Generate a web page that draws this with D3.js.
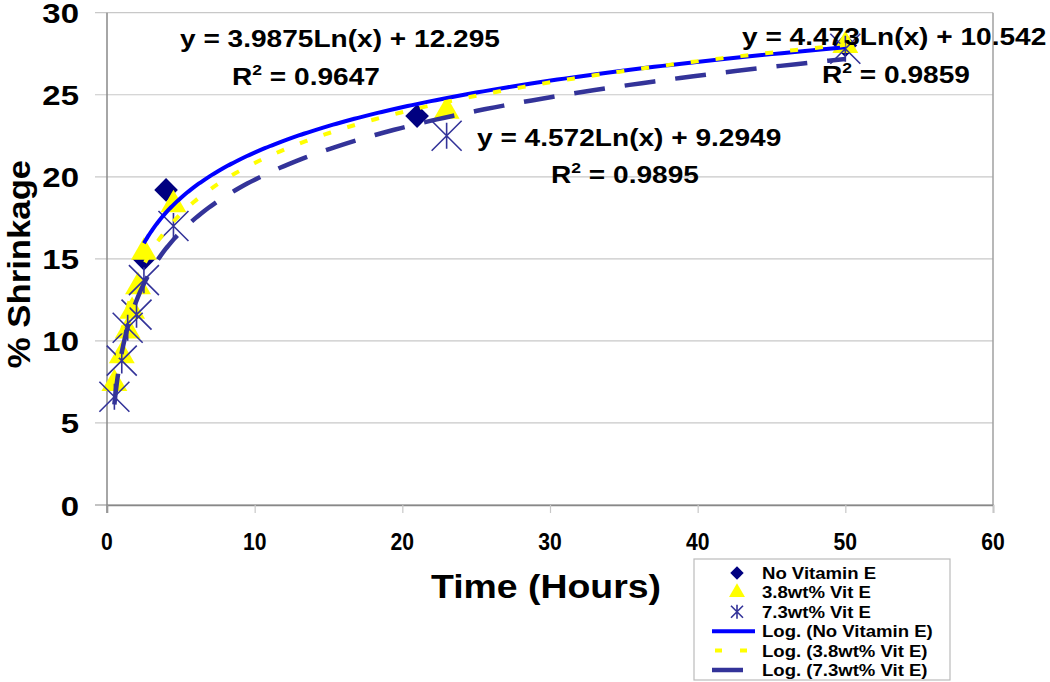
<!DOCTYPE html>
<html>
<head>
<meta charset="utf-8">
<script src="https://cdn.jsdelivr.net/npm/d3@7"></script>
<style>
  body { margin: 0; background: #fff; }
  text { font-family: "Liberation Sans", Arial, sans-serif; font-weight: bold; fill: #000; }
</style>
</head>
<body>
<div class="chart"></div>
<script>
//! DATA
const seriesNames = ['No Vitamin E', '3.8wt% Vit E', '7.3wt% Vit E'];
const timeNoVit = [2.5, 4, 21, 50];
const shrinkNoVit = [15.0, 19.2, 23.7, 28.0];
const time38 = [0.5, 1.0, 1.4, 1.7, 2.1, 2.5, 4.5, 23, 50];
const shrink38 = [7.4, 9.1, 10.6, 11.8, 13.3, 15.4, 18.3, 24.0, 28.0];
const time73 = [0.5, 1.0, 1.4, 2.0, 2.5, 4.5, 23, 50];
const shrink73 = [6.6, 8.8, 10.8, 11.6, 13.7, 17.0, 22.5, 27.8];
const fitSlope = [3.9875, 4.473, 4.572];
const fitIntercept = [12.295, 10.542, 9.2949];
const fitR2 = ['0.9647', '0.9859', '0.9895'];
const xTicks = [0, 10, 20, 30, 40, 50, 60];
const yTicks = [0, 5, 10, 15, 20, 25, 30];

//! LAYOUT
const WIDTH = 1050, HEIGHT = 682;
const LEFT = 107, RIGHT = 993, TOP = 12.7, BOTTOM = 505;
const SX = 1.17; // glyphs in the reference are drawn wide

const svg = d3.select('.chart').append('svg')
  .attr('width', WIDTH).attr('height', HEIGHT)
  .style('background', '#fff');

const x = d3.scaleLinear().domain([0, 60]).range([LEFT, RIGHT]);
const y = d3.scaleLinear().domain([0, 30]).range([BOTTOM, TOP]);

// stretched text helper
const label = (g, tx, ty, str, size, sx, anchor) => g.append('text')
  .attr('transform', `translate(${tx},${ty}) scale(${sx},1)`)
  .attr('text-anchor', anchor || 'start')
  .style('font-size', size + 'px')
  .text(str);

// gridlines + y ticks
svg.append('g').selectAll('line').data(yTicks).enter().append('line')
  .attr('x1', LEFT - 12).attr('x2', RIGHT)
  .attr('y1', d => y(d)).attr('y2', d => y(d))
  .attr('stroke', d => d === 0 ? '#888' : '#c8c8c8').attr('stroke-width', 1.2);

// right border
svg.append('line').attr('x1', RIGHT).attr('x2', RIGHT).attr('y1', TOP).attr('y2', BOTTOM)
  .attr('stroke', '#a0a0a0').attr('stroke-width', 1.5);

// x axis
const xAxis = d3.axisBottom(x).tickValues(xTicks).tickSize(8).tickFormat('');
svg.append('g').attr('transform', `translate(0,${BOTTOM})`).call(xAxis)
  .call(g => g.select('.domain').attr('stroke', '#888').attr('stroke-width', 1.5))
  .call(g => g.selectAll('.tick line').attr('stroke', '#c8c8c8').attr('stroke-width', 1.2));

// y axis line
svg.append('line').attr('x1', LEFT).attr('x2', LEFT).attr('y1', TOP).attr('y2', BOTTOM + 8)
  .attr('stroke', '#888').attr('stroke-width', 1.5);

// tick labels
const tl = svg.append('g');
xTicks.forEach(t => label(tl, x(t), 550, t, 23, 0.92, 'middle'));
yTicks.forEach(t => label(tl, 79, y(t) + 10.5, t, 27, 1.22, 'end'));

// axis titles
svg.append('text')
  .attr('transform', 'translate(30,264) rotate(-90) scale(1.12,1)')
  .attr('text-anchor', 'middle').style('font-size', '31px')
  .text('% Shrinkage');
label(svg, 546, 598, 'Time (Hours)', 34, 1.10, 'middle');

//! MARKERS
const plot = svg.append('g');
const diamond = d3.symbol().type(d3.symbolSquare).size(280);
const triangle = d3.symbol().type(d3.symbolTriangle).size(290);
const starPath = 'M-15,-15L15,15M-15,15L15,-15M0,-13L0,13';

const drawDiamonds = (g, xs, ys) => g.selectAll(null).data(xs).enter().append('path')
  .attr('d', diamond)
  .attr('transform', (d, i) => `translate(${x(d)},${y(ys[i])}) rotate(45)`)
  .attr('fill', '#000080');
const drawTriangles = (g, xs, ys) => g.selectAll(null).data(xs).enter().append('path')
  .attr('d', triangle)
  .attr('transform', (d, i) => `translate(${x(d)},${y(ys[i])})`)
  .attr('fill', '#ffff00');
const drawStars = (g, xs, ys) => g.selectAll(null).data(xs).enter().append('path')
  .attr('d', starPath)
  .attr('transform', (d, i) => `translate(${x(d)},${y(ys[i])})`)
  .attr('fill', 'none').attr('stroke', '#333399').attr('stroke-width', 1.6);

drawDiamonds(plot, timeNoVit, shrinkNoVit);
drawTriangles(plot, time38, shrink38);
drawStars(plot, time73, shrink73);

//! TRENDLINES  (log fits, from the coefficients printed on the chart)
const trendStyles = [
  { color: '#0000ff', width: 4, dash: null },
  { color: '#ffff00', width: 4, dash: '8,17' },
  { color: '#333399', width: 4.5, dash: '31,20' }
];
const seriesTimes = [timeNoVit, time38, time73];
const line = d3.line().x(d => x(d[0])).y(d => y(d[1]));

seriesTimes.forEach((ts, k) => {
  const lo = d3.min(ts), hi = d3.max(ts);
  const pts = d3.range(0, 201).map(i => {
    const t = lo * Math.pow(hi / lo, i / 200);
    return [t, fitSlope[k] * Math.log(t) + fitIntercept[k]];
  });
  plot.append('path').datum(pts)
    .attr('d', line)
    .attr('fill', 'none')
    .attr('stroke', trendStyles[k].color)
    .attr('stroke-width', trendStyles[k].width)
    .attr('stroke-dasharray', trendStyles[k].dash);
});

//! EQUATION LABELS
const eqPos = [
  { x1: 180, y1: 47, x2: 232, y2: 85 },
  { x1: 742, y1: 45, x2: 822, y2: 83 },
  { x1: 477, y1: 146, x2: 551, y2: 183 }
];
const eqG = svg.append('g');
fitSlope.forEach((s, k) => {
  label(eqG, eqPos[k].x1, eqPos[k].y1, `y = ${s}Ln(x) + ${fitIntercept[k]}`, 24, SX);
  const r = eqG.append('text')
    .attr('transform', `translate(${eqPos[k].x2},${eqPos[k].y2}) scale(${SX},1)`)
    .style('font-size', '24px');
  r.append('tspan').text('R');
  r.append('tspan').attr('dy', -10).style('font-size', '15px').text('2');
  r.append('tspan').attr('dy', 10).text(` = ${fitR2[k]}`);
});

//! LEGEND
const legend = svg.append('g').attr('id', 'legend');
legend.append('rect')
  .attr('x', 694).attr('y', 559).attr('width', 256).attr('height', 121)
  .attr('fill', '#fff').attr('stroke', '#bbb').attr('stroke-width', 1.2);

const rowY = i => 573 + i * 19.4;
const lg = legend.append('g');
drawDiamonds(lg.append('g'), [0], [0]).attr('transform', `translate(737,${rowY(0)}) rotate(45)`)
  .attr('d', d3.symbol().type(d3.symbolSquare).size(90));
drawTriangles(lg.append('g'), [0], [0]).attr('transform', `translate(737,${rowY(1)})`)
  .attr('d', d3.symbol().type(d3.symbolTriangle).size(110));
drawStars(lg.append('g'), [0], [0]).attr('transform', `translate(737,${rowY(2)})`)
  .attr('d', 'M-6,-6L6,6M-6,6L6,-6M0,-7L0,7');

trendStyles.forEach((st, k) => {
  lg.append('line')
    .attr('x1', st.dash === '8,17' ? 715 : 712).attr('x2', 755)
    .attr('y1', rowY(k + 3)).attr('y2', rowY(k + 3))
    .attr('stroke', st.color).attr('stroke-width', st.width)
    .attr('stroke-dasharray', st.dash === '8,17' ? '7,18' : st.dash);
});

const legendLabels = seriesNames.concat(seriesNames.map(n => `Log. (${n})`));
legendLabels.forEach((n, i) => label(lg, 762, rowY(i) + 6, n, 16, 1.16));
</script>
</body>
</html>
